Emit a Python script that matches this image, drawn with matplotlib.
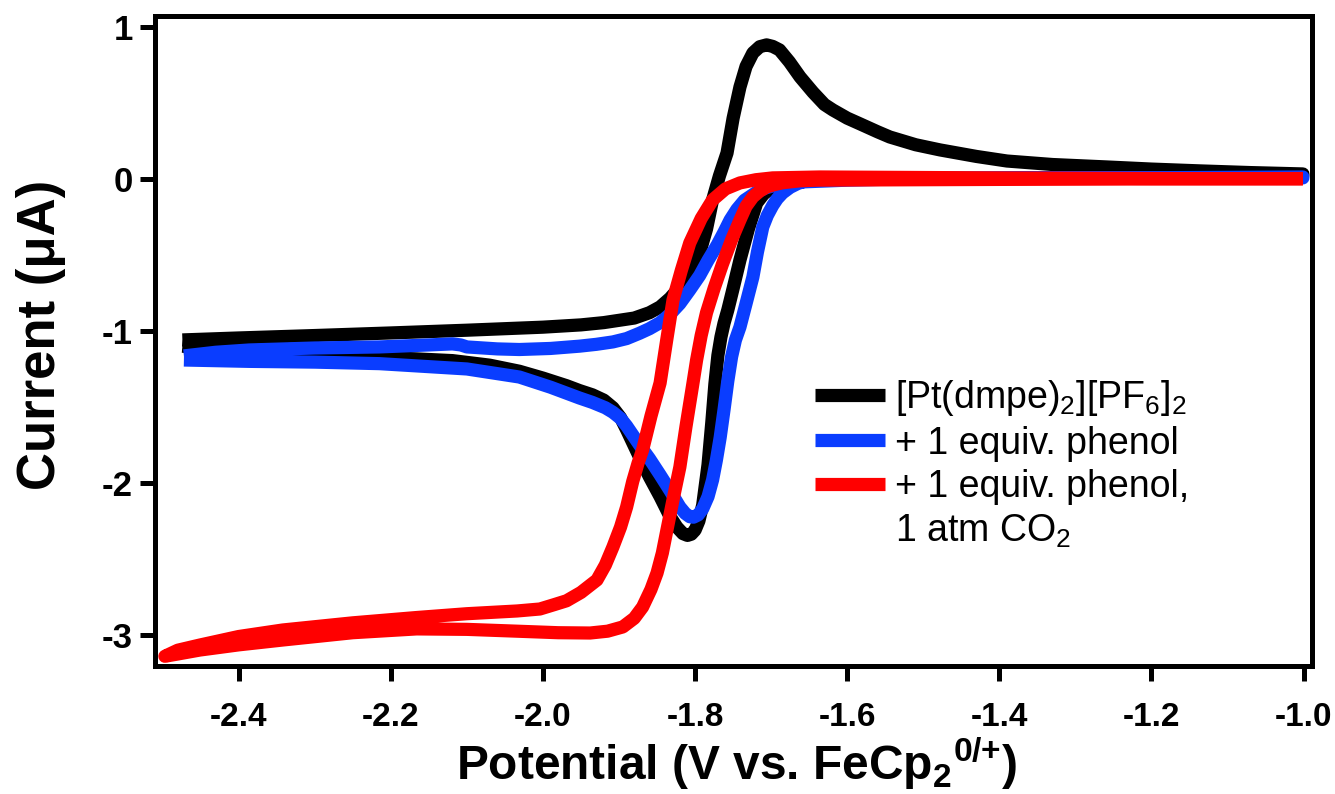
import matplotlib
matplotlib.use("Agg")
import matplotlib.pyplot as plt
from matplotlib import font_manager
from matplotlib.lines import Line2D

# ---------------- data ----------------
# [Pt(dmpe)2][PF6]2  (closed CV loop: anodic sweep, then cathodic sweep back)
pt_potential = [-2.474, -2.400, -2.300, -2.200, -2.100, -2.000, -1.950, -1.920, -1.900,
                -1.880, -1.860, -1.846, -1.833, -1.820, -1.807, -1.794, -1.785, -1.777,
                -1.768, -1.758, -1.750, -1.741, -1.733, -1.724, -1.715, -1.706, -1.698,
                -1.689, -1.676, -1.662, -1.645, -1.630, -1.619, -1.600, -1.583, -1.560,
                -1.544, -1.510, -1.478, -1.430, -1.390, -1.330, -1.259, -1.200, -1.136,
                -1.070, -1.001,
                -1.001, -1.200, -1.400, -1.600, -1.660, -1.685, -1.700, -1.710, -1.719,
                -1.730, -1.741, -1.750, -1.757, -1.762, -1.766, -1.770, -1.774, -1.778,
                -1.783, -1.790, -1.795, -1.800, -1.805, -1.810, -1.816, -1.824, -1.833,
                -1.846, -1.860, -1.873, -1.890, -1.898, -1.908, -1.920, -1.935, -1.952,
                -1.969, -2.000, -2.031, -2.070, -2.119, -2.215, -2.300, -2.386, -2.474]
pt_current = [-1.059, -1.046, -1.030, -1.013, -0.995, -0.975, -0.960, -0.945, -0.930,
              -0.915, -0.880, -0.842, -0.785, -0.711, -0.610, -0.487, -0.330, -0.138,
              0.020, 0.171, 0.400, 0.605, 0.740, 0.829, 0.870, 0.882, 0.872,
              0.849, 0.770, 0.671, 0.570, 0.490, 0.454, 0.400, 0.362, 0.310,
              0.276, 0.225, 0.191, 0.148, 0.118, 0.095, 0.079, 0.065, 0.053,
              0.042, 0.033,
              0.025, 0.010, 0.003, 0.000, -0.005, -0.025, -0.060, -0.100, -0.158,
              -0.330, -0.533, -0.720, -0.862, -0.950, -1.040, -1.160, -1.350, -1.600,
              -1.880, -2.145, -2.250, -2.310, -2.337, -2.345, -2.333, -2.290, -2.220,
              -2.090, -1.960, -1.830, -1.650, -1.570, -1.505, -1.455, -1.420, -1.392,
              -1.360, -1.310, -1.265, -1.225, -1.195, -1.172, -1.158, -1.140, -1.100]

# + 1 equiv. phenol
ph_potential = [-2.472, -2.430, -2.386, -2.300, -2.215, -2.150, -2.119, -2.108, -2.100,
                -2.060, -2.031, -1.990, -1.952, -1.930, -1.908, -1.890, -1.873, -1.860,
                -1.846, -1.833, -1.820, -1.807, -1.794, -1.783, -1.771, -1.762, -1.754,
                -1.745, -1.735, -1.720, -1.708, -1.690, -1.662, -1.600, -1.531, -1.300,
                -1.001,
                -1.001, -1.300, -1.531, -1.623, -1.640, -1.653, -1.665, -1.675, -1.685,
                -1.692, -1.698, -1.705, -1.711, -1.718, -1.724, -1.733, -1.741, -1.747,
                -1.752, -1.757, -1.762, -1.767, -1.772, -1.777, -1.783, -1.790, -1.796,
                -1.802, -1.807, -1.813, -1.820, -1.833, -1.846, -1.860, -1.873, -1.890,
                -1.898, -1.908, -1.918, -1.935, -1.952, -1.990, -2.031, -2.100, -2.215,
                -2.300, -2.386, -2.472]
ph_current = [-1.164, -1.140, -1.125, -1.112, -1.105, -1.092, -1.085, -1.092, -1.105,
              -1.118, -1.122, -1.115, -1.100, -1.088, -1.072, -1.050, -1.015, -0.985,
              -0.945, -0.890, -0.820, -0.730, -0.635, -0.535, -0.435, -0.350, -0.270,
              -0.200, -0.140, -0.090, -0.060, -0.035, -0.020, -0.008, 0.000, 0.006,
              0.013,
              0.007, 0.007, 0.007, 0.005, 0.000, -0.010, -0.030, -0.055, -0.092,
              -0.130, -0.175, -0.240, -0.316, -0.480, -0.645, -0.820, -0.974, -1.060,
              -1.170, -1.330, -1.520, -1.700, -1.850, -1.980, -2.090, -2.170, -2.210,
              -2.225, -2.222, -2.200, -2.158, -2.050, -1.947, -1.840, -1.750, -1.625,
              -1.575, -1.535, -1.505, -1.470, -1.441, -1.370, -1.303, -1.250, -1.215,
              -1.205, -1.200, -1.191]

# + 1 equiv. phenol, 1 atm CO2
co2_potential = [-1.001, -1.200, -1.399, -1.597, -1.640, -1.662, -1.685, -1.698, -1.706,
                 -1.715, -1.724, -1.733, -1.741, -1.752, -1.764, -1.775, -1.785, -1.792,
                 -1.798, -1.803, -1.812, -1.820, -1.829, -1.837, -1.843, -1.850, -1.858,
                 -1.869, -1.880, -1.895, -1.915, -1.938, -1.980, -2.034, -2.100, -2.166,
                 -2.250, -2.342, -2.400, -2.451, -2.480, -2.497,
                 -2.480, -2.451, -2.400, -2.342, -2.250, -2.166, -2.100, -2.034, -2.004,
                 -1.985, -1.969, -1.950, -1.929, -1.918, -1.908, -1.898, -1.890, -1.882,
                 -1.875, -1.869, -1.858, -1.846, -1.837, -1.829, -1.818, -1.807, -1.792,
                 -1.777, -1.760, -1.741, -1.720, -1.698, -1.636, -1.399, -1.200, -1.001]
co2_current = [0.003, 0.000, -0.003, -0.007, -0.008, -0.012, -0.025, -0.040, -0.053,
               -0.080, -0.118, -0.180, -0.270, -0.400, -0.560, -0.720, -0.880, -1.030,
               -1.191, -1.350, -1.630, -1.895, -2.110, -2.309, -2.460, -2.592, -2.700,
               -2.816, -2.890, -2.947, -2.975, -2.987, -2.985, -2.975, -2.963, -2.960,
               -2.985, -3.033, -3.065, -3.099, -3.125, -3.140,
               -3.100, -3.066, -3.010, -2.967, -2.920, -2.885, -2.860, -2.842, -2.829,
               -2.800, -2.775, -2.720, -2.638, -2.540, -2.421, -2.290, -2.158, -1.990,
               -1.870, -1.783, -1.560, -1.342, -1.050, -0.796, -0.600, -0.421, -0.260,
               -0.138, -0.065, -0.026, -0.005, 0.007, 0.013, 0.007, 0.003, 0.000]

series_labels = [r'[Pt(dmpe)$_{\mathrm{2}}$][PF$_{\mathrm{6}}$]$_{\mathrm{2}}$',
                 '+ 1 equiv. phenol',
                 '+ 1 equiv. phenol,',
                 r'1 atm CO$_{\mathrm{2}}$']
series_colors = ['#000000', '#0a3dff', '#ff0000']

x_ticks = [-2.4, -2.2, -2.0, -1.8, -1.6, -1.4, -1.2, -1.0]
x_ticklabels = ['-2.4', '-2.2', '-2.0', '-1.8', '-1.6', '-1.4', '-1.2', '-1.0']
y_ticks = [1, 0, -1, -2, -3]
y_ticklabels = ['1', '0', '-1', '-2', '-3']

# ---------------- fonts ----------------
names = {f.name for f in font_manager.fontManager.ttflist}
base = 'Liberation Sans' if 'Liberation Sans' in names else 'DejaVu Sans'
narrow = 'Liberation Sans Narrow' if 'Liberation Sans Narrow' in names else base

plt.rcParams['font.family'] = [base, 'DejaVu Sans']
plt.rcParams['mathtext.fontset'] = 'custom'
plt.rcParams['mathtext.rm'] = base
plt.rcParams['mathtext.bf'] = narrow + ':bold'

# ---------------- figure ----------------
W, H = 1335, 794
fig = plt.figure(figsize=(W / 100, H / 100), dpi=100)
L, R, T, B = 155, 1312, 16, 666
ax = fig.add_axes([L / W, 1 - B / H, (R - L) / W, (B - T) / H])

lw = 9.5
common = dict(lw=lw, solid_capstyle='butt', solid_joinstyle='round')
l1, = ax.plot(pt_potential, pt_current, color=series_colors[0], **common)
l2, = ax.plot(ph_potential, ph_current, color=series_colors[1], **common)
l3, = ax.plot(co2_potential, co2_current, color=series_colors[2], **common)

ax.set_xlim(-2.510, -0.989)
ax.set_ylim(-3.204, 1.072)

for s in ax.spines.values():
    s.set_linewidth(3.6)

ax.set_xticks(x_ticks)
ax.set_xticklabels(x_ticklabels, fontfamily=narrow, fontweight='bold', fontsize=24)
ax.set_yticks(y_ticks)
ax.set_yticklabels(y_ticklabels, fontfamily=base, fontweight='bold', fontsize=25)
ax.tick_params(axis='x', direction='out', length=11, width=3.6, pad=15)
ax.tick_params(axis='y', direction='out', length=11, width=3.6, pad=5)

ax.set_ylabel(u'Current (\u03bcA)', fontfamily=base, fontweight='bold', fontsize=38)
ax.yaxis.set_label_coords(-0.077, 0.509)
ax.set_xlabel(r'Potential (V vs. FeCp$_{\mathbf{2}}$$^{\mathbf{0/}\mathbf{+}}$)',
              fontfamily=narrow, fontweight='bold', fontsize=34.5)
ax.xaxis.set_label_coords(0.503, -0.107)

blank = Line2D([], [], color='none', lw=lw)
leg = fig.legend([l1, l2, l3, blank], series_labels,
                 loc='upper left', bbox_to_anchor=(815 / W, 1 - 378 / H),
                 frameon=False, fontsize=27, handlelength=1.87, handletextpad=0.27,
                 labelspacing=0.2, borderpad=0, borderaxespad=0)

fig.savefig('out.png', dpi=100)
